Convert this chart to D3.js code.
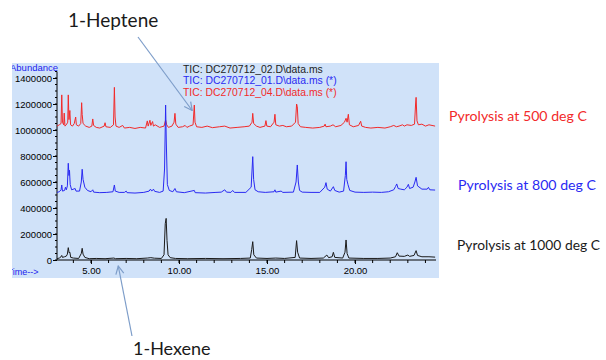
<!DOCTYPE html>
<html>
<head>
<meta charset="utf-8">
<script src="https://cdn.jsdelivr.net/npm/d3@7"></script>
<style>
  html, body { margin: 0; padding: 0; background: #fff; }
  svg { display: block; }
</style>
</head>
<body>
<div id="chart"></div>
<script>
// TIC traces, [time (min), abundance]
const trace500 = [
  [3.07, 1030000], [3.2, 1040000], [3.3, 1050000], [3.34, 1270000], [3.38, 1060000], [3.45, 1040000],
  [3.48, 1130000], [3.52, 1030000], [3.6, 1040000], [3.68, 1060000], [3.71, 1270000], [3.75, 1080000],
  [3.8, 1150000], [3.84, 1040000], [3.95, 1030000], [4.05, 1050000], [4.13, 1100000], [4.17, 1040000],
  [4.3, 1030000], [4.42, 1050000], [4.47, 1210000], [4.5, 1120000], [4.55, 1050000], [4.7, 1030000],
  [4.9, 1020000], [5.05, 1030000], [5.1, 1085000], [5.15, 1035000], [5.3, 1020000], [5.5, 1015000],
  [5.75, 1030000], [5.8, 1056000], [5.85, 1025000], [6.1, 1020000], [6.28, 1040000], [6.33, 1328000],
  [6.37, 1100000], [6.42, 1030000], [6.6, 1020000], [6.8, 1035000], [6.9, 1015000], [7.2, 1020000],
  [7.5, 1012000], [7.8, 1020000], [8.1, 1015000], [8.2, 1070000], [8.25, 1030000], [8.35, 1075000],
  [8.4, 1035000], [8.5, 1065000], [8.55, 1030000], [8.65, 1040000], [8.9, 1020000], [9.15, 1030000],
  [9.24, 1077000], [9.3, 1040000], [9.4, 1020000], [9.6, 1030000], [9.72, 1060000], [9.77, 1128000],
  [9.82, 1045000], [9.95, 1020000], [10.2, 1025000], [10.35, 1035000], [10.45, 1020000], [10.6, 1030000],
  [10.8, 1040000], [10.87, 1192000], [10.91, 1060000], [11.0, 1025000], [11.3, 1020000], [11.6, 1030000],
  [11.9, 1018000], [12.3, 1025000], [12.6, 1030000], [12.9, 1015000], [13.3, 1020000], [13.7, 1025000],
  [14.0, 1030000], [14.15, 1060000], [14.19, 1128000], [14.24, 1050000], [14.4, 1030000], [14.6, 1020000],
  [14.88, 1030000], [14.94, 1072000], [14.99, 1030000], [15.2, 1025000], [15.4, 1060000], [15.45, 1121000],
  [15.5, 1040000], [15.7, 1030000], [15.9, 1035000], [16.1, 1025000], [16.4, 1030000], [16.62, 1060000],
  [16.68, 1200000], [16.72, 1180000], [16.77, 1050000], [16.9, 1025000], [17.2, 1020000], [17.6, 1015000],
  [18.0, 1020000], [18.25, 1030000], [18.3, 1045000], [18.35, 1025000], [18.6, 1030000], [18.75, 1040000],
  [18.9, 1025000], [19.2, 1035000], [19.4, 1060000], [19.49, 1090000], [19.55, 1060000], [19.62, 1121000],
  [19.68, 1040000], [19.9, 1025000], [20.2, 1035000], [20.32, 1067000], [20.38, 1030000], [20.6, 1020000],
  [20.9, 1015000], [21.3, 1020000], [21.7, 1015000], [22.0, 1025000], [22.2, 1035000], [22.35, 1025000],
  [22.5, 1030000], [22.7, 1040000], [22.8, 1030000], [22.95, 1040000], [23.2, 1035000], [23.38, 1045000],
  [23.44, 1200000], [23.47, 1251000], [23.52, 1070000], [23.6, 1040000], [23.8, 1045000], [24.0, 1030000],
  [24.2, 1040000], [24.55, 1030000]
];

const trace800 = [
  [3.07, 520000], [3.2, 525000], [3.3, 540000], [3.34, 577000], [3.38, 530000], [3.5, 535000],
  [3.55, 560000], [3.6, 540000], [3.66, 570000], [3.71, 744000], [3.75, 650000], [3.78, 690000],
  [3.82, 580000], [3.9, 540000], [4.1, 550000], [4.15, 530000], [4.35, 530000], [4.45, 600000],
  [4.5, 698000], [4.55, 620000], [4.65, 560000], [4.8, 535000], [5.0, 525000], [5.1, 540000],
  [5.15, 522000], [5.5, 518000], [5.9, 520000], [6.25, 525000], [6.33, 577000], [6.38, 530000],
  [6.6, 520000], [6.9, 520000], [7.0, 530000], [7.05, 518000], [7.5, 515000], [8.0, 520000],
  [8.3, 530000], [8.38, 545000], [8.45, 530000], [8.55, 545000], [8.62, 528000], [8.9, 520000],
  [9.1, 530000], [9.18, 700000], [9.24, 1192000], [9.28, 900000], [9.34, 580000], [9.45, 535000],
  [9.65, 525000], [9.77, 550000], [9.85, 525000], [10.3, 518000], [10.87, 535000], [10.92, 518000],
  [11.5, 515000], [12.1, 520000], [12.4, 522000], [12.6, 540000], [12.7, 522000], [12.95, 520000],
  [13.05, 535000], [13.15, 520000], [13.8, 520000], [14.1, 560000], [14.19, 795000], [14.24, 620000],
  [14.32, 540000], [14.5, 525000], [14.9, 520000], [15.4, 525000], [15.45, 540000], [15.5, 522000],
  [15.8, 530000], [15.9, 520000], [16.5, 522000], [16.65, 600000], [16.72, 731000], [16.78, 600000],
  [16.85, 535000], [17.0, 522000], [17.5, 520000], [18.0, 520000], [18.28, 560000], [18.35, 595000],
  [18.42, 545000], [18.6, 530000], [18.77, 564000], [18.85, 535000], [19.1, 522000], [19.35, 530000],
  [19.45, 650000], [19.49, 756000], [19.53, 620000], [19.6, 580000], [19.7, 535000], [20.0, 522000],
  [20.5, 520000], [21.0, 522000], [21.5, 520000], [21.9, 525000], [22.2, 540000], [22.3, 565000],
  [22.37, 585000], [22.45, 550000], [22.6, 545000], [22.8, 540000], [22.95, 560000], [23.03, 582000],
  [23.1, 550000], [23.3, 560000], [23.4, 600000], [23.47, 636000], [23.55, 570000], [23.8, 545000],
  [24.1, 545000], [24.17, 559000], [24.25, 540000], [24.55, 538000]
];

const trace1000 = [
  [3.07, 10000], [3.2, 15000], [3.3, 25000], [3.34, 35000], [3.38, 20000], [3.5, 25000],
  [3.6, 30000], [3.66, 45000], [3.71, 95000], [3.76, 55000], [3.8, 60000], [3.85, 20000],
  [4.0, 15000], [4.3, 12000], [4.45, 50000], [4.5, 90000], [4.55, 45000], [4.65, 20000],
  [4.9, 10000], [5.3, 12000], [5.8, 10000], [6.3, 15000], [6.4, 10000], [7.0, 12000],
  [7.6, 10000], [8.2, 15000], [8.4, 18000], [8.6, 14000], [9.0, 12000], [9.15, 40000],
  [9.22, 280000], [9.27, 320000], [9.32, 150000], [9.38, 40000], [9.5, 18000], [9.8, 12000],
  [10.5, 10000], [11.5, 12000], [12.5, 10000], [13.5, 12000], [14.05, 15000], [14.13, 80000],
  [14.19, 141000], [14.25, 40000], [14.4, 15000], [15.0, 12000], [15.5, 15000], [16.0, 12000],
  [16.6, 20000], [16.68, 149000], [16.74, 60000], [16.85, 15000], [17.5, 12000], [18.2, 15000],
  [18.4, 38000], [18.5, 18000], [18.7, 25000], [18.77, 59000], [18.85, 20000], [19.3, 15000],
  [19.43, 60000], [19.49, 154000], [19.55, 50000], [19.65, 15000], [20.5, 12000], [21.3, 12000],
  [22.0, 15000], [22.3, 25000], [22.4, 56000], [22.5, 30000], [22.8, 28000], [23.0, 38000],
  [23.1, 28000], [23.35, 35000], [23.47, 72000], [23.55, 35000], [23.8, 25000], [24.2, 25000],
  [24.55, 22000]
];

const yTicks = [0, 200000, 400000, 600000, 800000, 1000000, 1200000, 1400000];
const xTicks = [5, 10, 15, 20];
const fileNames = ['TIC: DC270712_02.D\\data.ms', 'TIC: DC270712_01.D\\data.ms (*)', 'TIC: DC270712_04.D\\data.ms (*)'];
const seriesLabels = ['Pyrolysis at 500 deg C', 'Pyrolysis at 800 deg C', 'Pyrolysis at 1000 deg C'];

const W = 606, H = 360;
const panel = { x: 12, y: 63, w: 427, h: 215 };

const svg = d3.select('#chart').append('svg')
  .attr('width', W)
  .attr('height', H)
  .style('font-family', '"Liberation Sans", Arial, sans-serif');

const defs = svg.append('defs');
defs.append('clipPath').attr('id', 'panel-clip')
  .append('rect')
  .attr('x', panel.x).attr('y', panel.y)
  .attr('width', panel.w).attr('height', panel.h);

defs.append('marker')
  .attr('id', 'arrow')
  .attr('viewBox', '0 0 10 10')
  .attr('refX', 9).attr('refY', 5)
  .attr('markerWidth', 10).attr('markerHeight', 10)
  .attr('markerUnits', 'userSpaceOnUse')
  .attr('orient', 'auto')
  .append('path')
  .attr('d', 'M1,1 L9,5 L1,9')
  .attr('fill', 'none')
  .attr('stroke', '#7d9dc9')
  .attr('stroke-width', 1.2);

svg.append('rect')
  .attr('x', panel.x).attr('y', panel.y)
  .attr('width', panel.w).attr('height', panel.h)
  .attr('fill', '#d0e2f9');

const x = d3.scaleLinear().domain([3.07, 24.6]).range([57, 436]);
const y = d3.scaleLinear().domain([0, 1450000]).range([260, 71.5]);

// axes, ChemStation style
const yAxis = d3.axisLeft(y).tickValues(yTicks).tickSize(4).tickPadding(1).tickFormat(d3.format('d'));
const gy = svg.append('g').attr('transform', 'translate(57,0)').call(yAxis);
gy.selectAll('text').style('font-size', '9.5px').attr('fill', '#000');
gy.select('.domain').attr('d', `M0,${y(1450000)}V${y(0)}`).attr('stroke', '#000');

const yMinor = d3.range(0, 1450001, 50000);
svg.append('g').selectAll('line').data(yMinor).join('line')
  .attr('x1', 55).attr('x2', 57)
  .attr('y1', d => y(d)).attr('y2', d => y(d))
  .attr('stroke', '#000');

const xAxis = d3.axisBottom(x).tickValues(xTicks).tickSize(4).tickPadding(3).tickFormat(d3.format('.2f'));
const gx = svg.append('g').attr('transform', `translate(0,${y(0)})`).call(xAxis);
gx.selectAll('text').style('font-size', '9.5px').attr('fill', '#000');
gx.select('.domain').attr('d', `M${x(3.07)},0H${x(24.6)}`).attr('stroke', '#000');

const xMinor = d3.range(4, 25, 1);
svg.append('g').selectAll('line').data(xMinor).join('line')
  .attr('x1', d => x(d)).attr('x2', d => x(d))
  .attr('y1', y(0)).attr('y2', y(0) + 3)
  .attr('stroke', '#000');

// traces
const line = d3.line().x(d => x(d[0])).y(d => y(d[1]));
const traces = [
  { data: trace1000, color: '#1a1a1a' },
  { data: trace500, color: '#f22a2a' },
  { data: trace800, color: '#2a2af2' }
];
svg.append('g').selectAll('path').data(traces).join('path')
  .attr('d', d => line(d.data))
  .attr('fill', 'none')
  .attr('stroke', d => d.color)
  .attr('stroke-width', 1)
  .attr('stroke-linejoin', 'round');

// panel texts
const clipped = svg.append('g').attr('clip-path', 'url(#panel-clip)');
clipped.append('text')
  .attr('x', 10).attr('y', 70.5)
  .attr('fill', '#2222ee')
  .style('font-size', '9.5px')
  .text('Abundance');
clipped.append('text')
  .attr('x', 7.5).attr('y', 275)
  .attr('fill', '#2222ee')
  .style('font-size', '9px')
  .text('Time-->');

const fileColors = ['#222', '#2a2af2', '#f22a2a'];
svg.append('g').selectAll('text').data(fileNames).join('text')
  .attr('x', 183)
  .attr('y', (d, i) => 72.7 + i * 11.6)
  .attr('fill', (d, i) => fileColors[i])
  .style('font-size', '10.4px')
  .text(d => d);

// series labels at the right, font size fitted to the width seen in the picture
const labelColors = ['#f22a2a', '#2a2af2', '#1a1a1a'];
const labelPos = [[449, 120.7, 138], [458, 189.5, 138], [457, 250, 143]];
svg.append('g').selectAll('text').data(seriesLabels).join('text')
  .attr('x', (d, i) => labelPos[i][0])
  .attr('y', (d, i) => labelPos[i][1])
  .attr('fill', (d, i) => labelColors[i])
  .style('font-family', 'Lato, "Open Sans", sans-serif')
  .style('font-size', '15px')
  .text(d => d)
  .each(function (d, i) {
    const w = this.getComputedTextLength();
    d3.select(this).style('font-size', `${15 * labelPos[i][2] / w}px`);
  });

// compound callouts
svg.append('text')
  .attr('x', 68).attr('y', 26.5)
  .attr('fill', '#1a1a1a')
  .style('font-family', 'Lato, "Open Sans", sans-serif')
  .style('font-size', '19px')
  .text('1-Heptene');
svg.append('line')
  .attr('x1', 138).attr('y1', 37)
  .attr('x2', x(10.75)).attr('y2', y(1150000))
  .attr('stroke', '#7d9dc9')
  .attr('stroke-width', 1.2)
  .attr('marker-end', 'url(#arrow)');

svg.append('text')
  .attr('x', 133).attr('y', 355)
  .attr('fill', '#1a1a1a')
  .style('font-family', 'Lato, "Open Sans", sans-serif')
  .style('font-size', '18px')
  .text('1-Hexene');
svg.append('line')
  .attr('x1', 132).attr('y1', 336)
  .attr('x2', x(6.55)).attr('y2', y(0) + 6)
  .attr('stroke', '#7d9dc9')
  .attr('stroke-width', 1.2)
  .attr('marker-end', 'url(#arrow)');
</script>
</body>
</html>
